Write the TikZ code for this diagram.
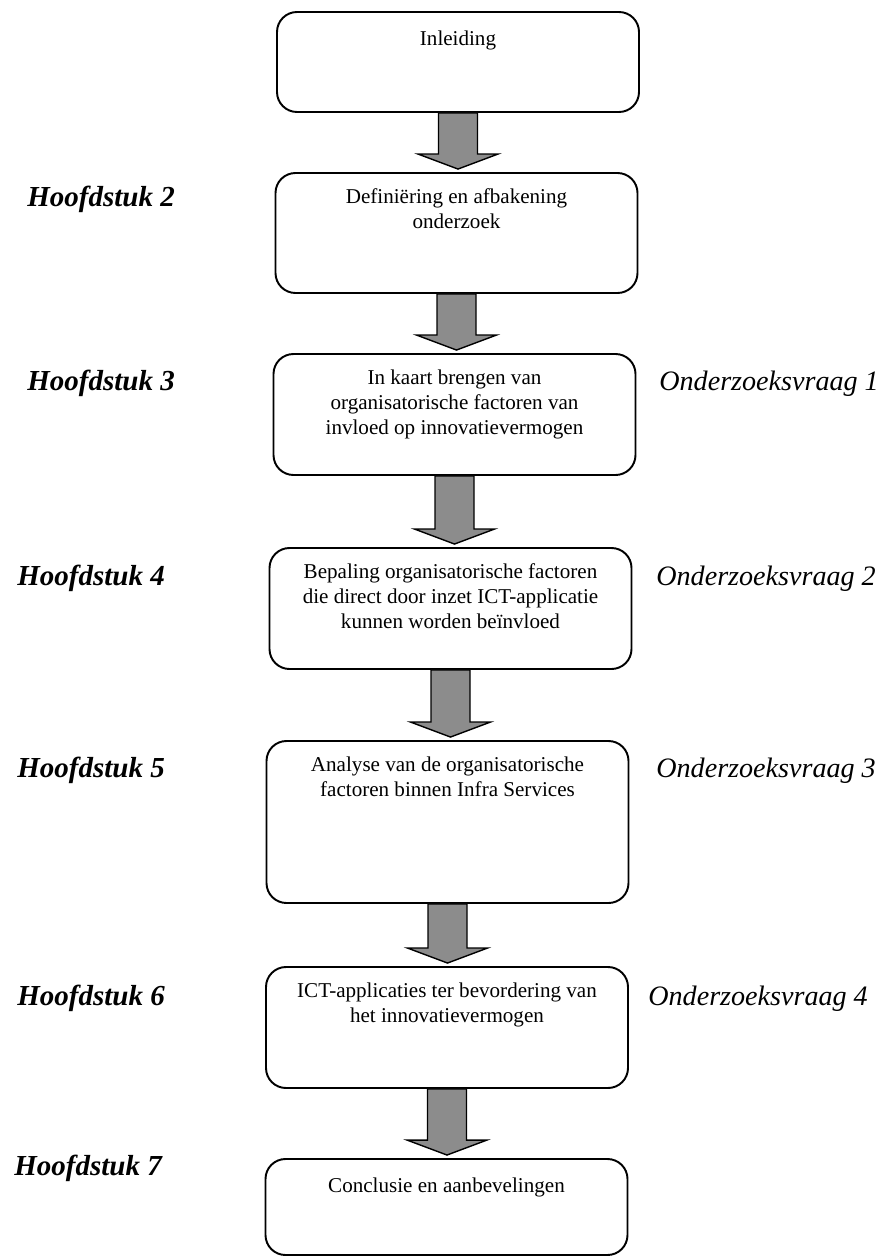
\documentclass[tikz,border=0pt]{standalone}
\usepackage{fontspec}
\setmainfont{Liberation Serif}
\usepackage{tikz}
\usetikzlibrary{positioning}
\usetikzlibrary{calc}
\tikzset{
  stage/.style = {rectangle, rounded corners=0.4cm, draw, line width=1.1pt,
   minimum width=7.24cm, inner sep=0pt},
  stage text/.style = {inner sep=0pt, align=center,
   font=\fontsize{12}{14.2}\selectfont, execute at begin node=\strut},
  chap/.style = {anchor=base west, inner sep=0pt,
   font=\fontsize{16.5}{19}\selectfont\bfseries\itshape},
  rq/.style = {anchor=base west, inner sep=0pt,
   font=\fontsize{16}{19}\selectfont\itshape},
  flow/.style = {draw, line width=0.8pt, fill=black!45, line join=miter},
}

\begin{document}
\begin{tikzpicture}
\useasboundingbox (0,0) rectangle (17.7,-25.14);
% stappen
\node at(9.16,-1.24) (b1) [stage, minimum height=2cm] {};
\node at(9.13,-4.66) (b2) [stage, minimum height=2.4cm] {};
\node at(9.09,-8.29) (b3) [stage, minimum height=2.42cm] {};
\node at(9.01,-12.17) (b4) [stage, minimum height=2.42cm] {};
\node at(8.95,-16.44) (b5) [stage, minimum height=3.24cm] {};
\node at(8.94,-20.55) (b6) [stage, minimum height=2.42cm] {};
\node at(8.93,-24.14) (b7) [stage, minimum height=1.92cm] {};
\node [stage text, below=0.33cm of b1.north] (t1) {Inleiding};
\node [stage text, below=0.33cm of b2.north] (t2) {Definiëring en afbakening\\onderzoek};
\node [stage text, below=0.33cm of b3.north] (t3) {In kaart brengen van\\organisatorische factoren van\\invloed op innovatievermogen};
\node [stage text, below=0.33cm of b4.north] (t4) {Bepaling organisatorische factoren\\die direct door inzet ICT-applicatie\\kunnen worden beïnvloed};
\node [stage text, below=0.33cm of b5.north] (t5) {Analyse van de organisatorische\\factoren binnen Infra Services};
\node [stage text, below=0.33cm of b6.north] (t6) {ICT-applicaties ter bevordering van\\het innovatievermogen};
\node [stage text, below=0.33cm of b7.north] (t7) {Conclusie en aanbevelingen};
% pijlen
\foreach \a/\b in {b1/b2,b2/b3,b3/b4,b4/b5,b5/b6,b6/b7}
  \draw[flow] ($(\a.south)+(-0.39,0)$) -- ($(\a.south |- \b.north)+(-0.39,0.36)$)
    -- ++(-0.41,0) -- ($(\a.south |- \b.north)+(0,0.06)$)
    -- ($(\a.south |- \b.north)+(0.8,0.36)$) -- ++(-0.41,0)
    -- ($(\a.south)+(0.39,0)$) -- cycle;
% hoofdstukken
\node at(0.54,-4.12) (h2) [chap] {Hoofdstuk 2};
\node at(0.54,-7.80) (h3) [chap] {Hoofdstuk 3};
\node at(0.34,-11.70) (h4) [chap] {Hoofdstuk 4};
\node at(0.34,-15.54) (h5) [chap] {Hoofdstuk 5};
\node at(0.34,-20.10) (h6) [chap] {Hoofdstuk 6};
\node at(0.28,-23.50) (h7) [chap] {Hoofdstuk 7};
% onderzoeksvragen
\node at(13.18,-7.80) (q1) [rq] {Onderzoeksvraag 1};
\node at(13.12,-11.70) (q2) [rq] {Onderzoeksvraag 2};
\node at(13.12,-15.54) (q3) [rq] {Onderzoeksvraag 3};
\node at(12.96,-20.10) (q4) [rq] {Onderzoeksvraag 4};
\end{tikzpicture}
\end{document}
